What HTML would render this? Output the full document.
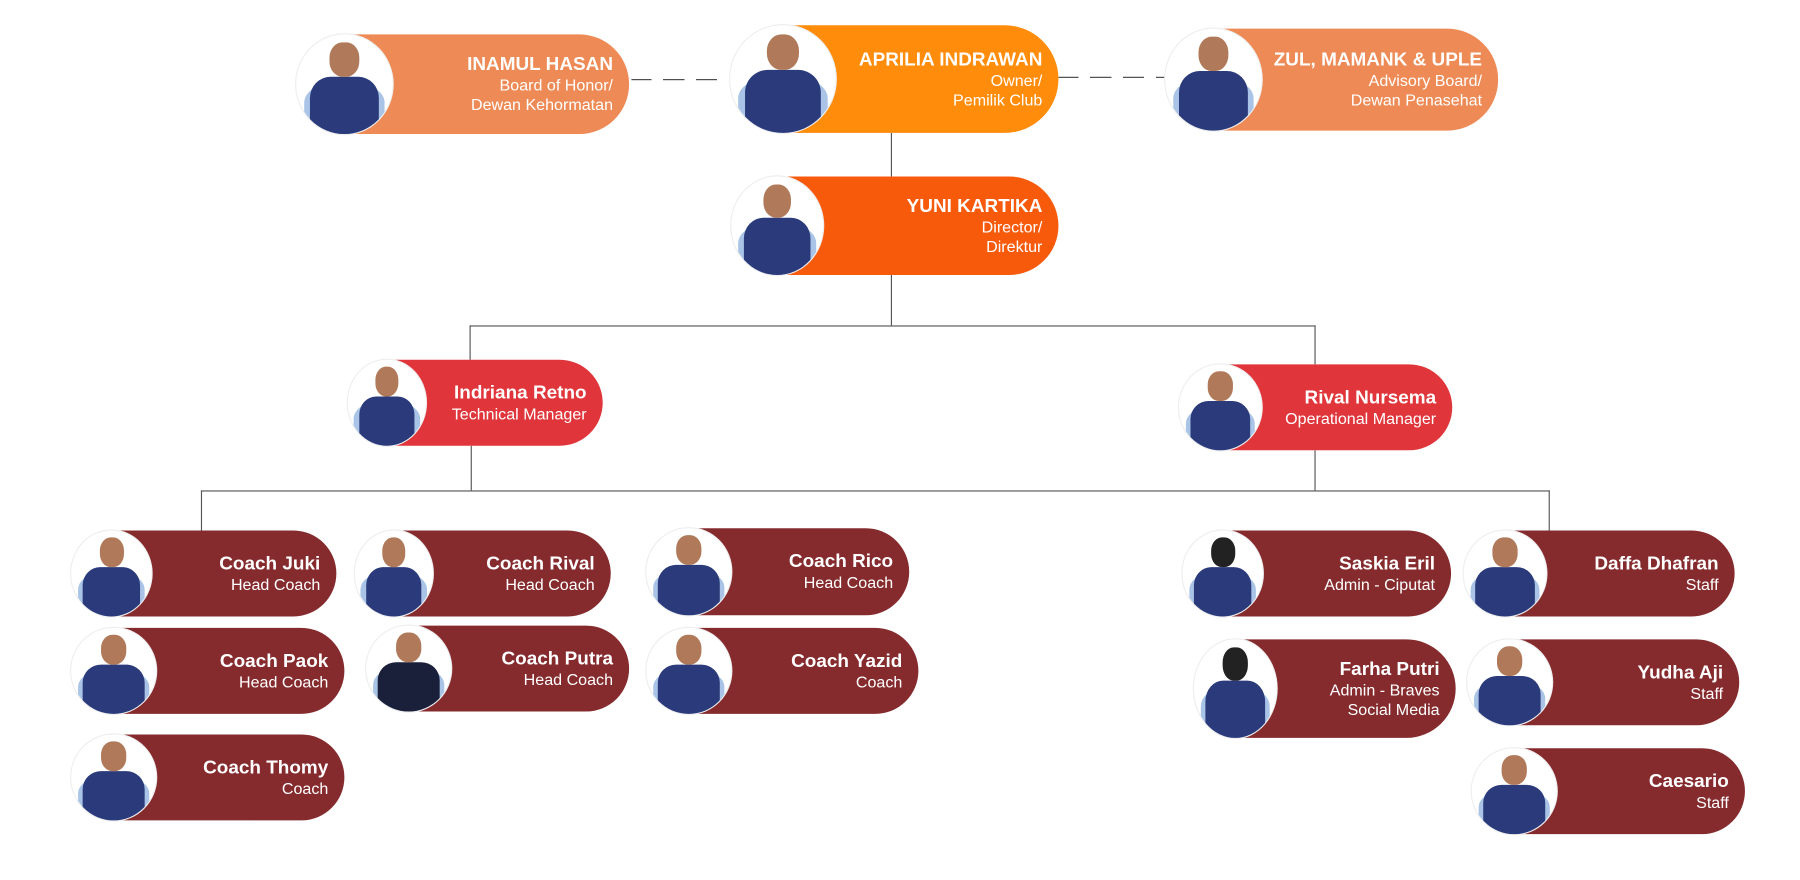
<!DOCTYPE html>
<html><head><meta charset="utf-8"><style>
html,body{margin:0;padding:0;background:#fff;width:1800px;height:880px;overflow:hidden}
#w{position:absolute;left:0;top:0;width:1568px;height:768px;transform:scale(1.148,1.1458);transform-origin:0 0;font-family:"Liberation Sans",sans-serif}
.p{position:absolute;border-radius:60px;color:#fff;text-align:right;box-sizing:border-box;padding-right:14px;display:flex;flex-direction:column;justify-content:center}
.p b{font-size:16.5px;line-height:19px;font-weight:bold}
.p span{font-size:14px;line-height:17px}
.ph{position:absolute;left:0;top:0;border-radius:50%;background:#fff;overflow:hidden;box-shadow:0 0 0 1px #eee}
.ph .h{position:absolute;left:50%;top:8%;width:30%;height:34%;margin-left:-15%;background:#b07a5a;border-radius:45%}
.ph .s{position:absolute;left:14%;top:42%;width:72%;height:70%;background:#2b3a7a;border-radius:30% 30% 0 0}
.ph .a{position:absolute;left:8%;top:50%;width:84%;height:60%;background:#a9c4e6;border-radius:30% 30% 0 0}
.l{position:absolute;background:#555}
.d{position:absolute;height:0;border-top:1.5px dashed #444}
</style></head><body><div id="w">
<div class="l" style="left:776px;top:116px;width:1px;height:38px"></div>
<div class="l" style="left:776px;top:240px;width:1px;height:44px"></div>
<div class="l" style="left:409px;top:284px;width:737px;height:1px"></div>
<div class="l" style="left:409px;top:284px;width:1px;height:30px"></div>
<div class="l" style="left:1145px;top:284px;width:1px;height:34px"></div>
<div class="l" style="left:410px;top:389px;width:1px;height:39px"></div>
<div class="l" style="left:1145px;top:393px;width:1px;height:35px"></div>
<div class="l" style="left:175px;top:428px;width:1175px;height:1px"></div>
<div class="l" style="left:175px;top:428px;width:1px;height:35px"></div>
<div class="l" style="left:1349px;top:428px;width:1px;height:35px"></div>
<div class="d" style="left:550px;top:69px;width:86px;border-image:repeating-linear-gradient(90deg,#444 0 18px,transparent 18px 28px) 1"></div>
<div class="d" style="left:922px;top:67px;width:93px;border-image:repeating-linear-gradient(90deg,#444 0 18px,transparent 18px 28px) 1"></div>

<div class="p" style="left:258px;top:30px;width:290px;height:87px;background:#EE8A55"><div class="ph" style="width:84px;height:87px"><div class="a"></div><div class="s"></div><div class="h"></div></div><b>INAMUL HASAN</b><span>Board of Honor/</span><span>Dewan Kehormatan</span></div>
<div class="p" style="left:636px;top:22px;width:286px;height:94px;background:#FF8C0A"><div class="ph" style="width:92px;height:94px"><div class="a"></div><div class="s"></div><div class="h"></div></div><b>APRILIA INDRAWAN</b><span>Owner/</span><span>Pemilik Club</span></div>
<div class="p" style="left:1015px;top:25px;width:290px;height:89px;background:#EE8A55"><div class="ph" style="width:84px;height:89px"><div class="a"></div><div class="s"></div><div class="h"></div></div><b>ZUL, MAMANK &amp; UPLE</b><span>Advisory Board/</span><span>Dewan Penasehat</span></div>
<div class="p" style="left:637px;top:154px;width:285px;height:86px;background:#F85A0C"><div class="ph" style="width:80px;height:86px"><div class="a"></div><div class="s"></div><div class="h"></div></div><b>YUNI KARTIKA</b><span>Director/</span><span>Direktur</span></div>
<div class="p" style="left:303px;top:314px;width:222px;height:75px;background:#E0353A"><div class="ph" style="width:68px;height:75px"><div class="a"></div><div class="s"></div><div class="h"></div></div><b>Indriana Retno</b><span>Technical Manager</span></div>
<div class="p" style="left:1027px;top:318px;width:238px;height:75px;background:#E0353A"><div class="ph" style="width:72px;height:75px"><div class="a"></div><div class="s"></div><div class="h"></div></div><b>Rival Nursema</b><span>Operational Manager</span></div>

<div class="p" style="left:62px;top:463px;width:231px;height:75px;background:#852B2E"><div class="ph" style="width:70px;height:75px"><div class="a"></div><div class="s"></div><div class="h"></div></div><b>Coach Juki</b><span>Head Coach</span></div>
<div class="p" style="left:309px;top:463px;width:223px;height:75px;background:#852B2E"><div class="ph" style="width:68px;height:75px"><div class="a"></div><div class="s"></div><div class="h"></div></div><b>Coach Rival</b><span>Head Coach</span></div>
<div class="p" style="left:563px;top:461px;width:229px;height:76px;background:#852B2E"><div class="ph" style="width:74px;height:76px"><div class="a"></div><div class="s"></div><div class="h"></div></div><b>Coach Rico</b><span>Head Coach</span></div>
<div class="p" style="left:62px;top:548px;width:238px;height:75px;background:#852B2E"><div class="ph" style="width:74px;height:75px"><div class="a"></div><div class="s"></div><div class="h"></div></div><b>Coach Paok</b><span>Head Coach</span></div>
<div class="p" style="left:319px;top:546px;width:229px;height:75px;background:#852B2E"><div class="ph" style="width:74px;height:75px"><div class="a"></div><div class="s" style="background:#1a1f3a"></div><div class="h"></div></div><b>Coach Putra</b><span>Head Coach</span></div>
<div class="p" style="left:563px;top:548px;width:237px;height:75px;background:#852B2E"><div class="ph" style="width:74px;height:75px"><div class="a"></div><div class="s"></div><div class="h"></div></div><b>Coach Yazid</b><span>Coach</span></div>
<div class="p" style="left:62px;top:641px;width:238px;height:75px;background:#852B2E"><div class="ph" style="width:74px;height:75px"><div class="a"></div><div class="s"></div><div class="h"></div></div><b>Coach Thomy</b><span>Coach</span></div>

<div class="p" style="left:1030px;top:463px;width:234px;height:75px;background:#852B2E"><div class="ph" style="width:70px;height:75px"><div class="a"></div><div class="s"></div><div class="h" style="background:#222"></div></div><b>Saskia Eril</b><span>Admin - Ciputat</span></div>
<div class="p" style="left:1275px;top:463px;width:236px;height:75px;background:#852B2E"><div class="ph" style="width:72px;height:75px"><div class="a"></div><div class="s"></div><div class="h"></div></div><b>Daffa Dhafran</b><span>Staff</span></div>
<div class="p" style="left:1040px;top:558px;width:228px;height:86px;background:#852B2E"><div class="ph" style="width:72px;height:86px"><div class="a"></div><div class="s"></div><div class="h" style="background:#222"></div></div><b>Farha Putri</b><span>Admin - Braves</span><span>Social Media</span></div>
<div class="p" style="left:1278px;top:558px;width:237px;height:75px;background:#852B2E"><div class="ph" style="width:74px;height:75px"><div class="a"></div><div class="s"></div><div class="h"></div></div><b>Yudha Aji</b><span>Staff</span></div>
<div class="p" style="left:1282px;top:653px;width:238px;height:75px;background:#852B2E"><div class="ph" style="width:74px;height:75px"><div class="a"></div><div class="s"></div><div class="h"></div></div><b>Caesario</b><span>Staff</span></div>
</div></body></html>
